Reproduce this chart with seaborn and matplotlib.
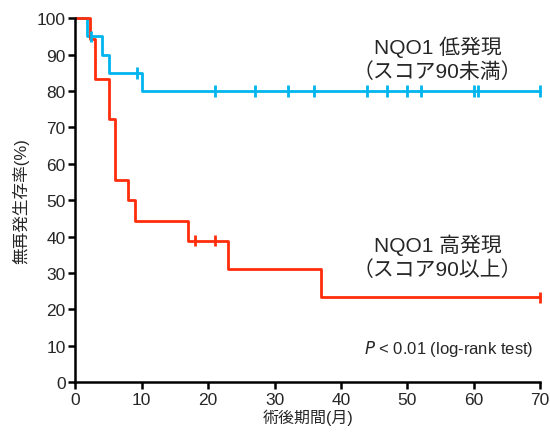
import pandas as pd
import matplotlib.pyplot as plt
import seaborn as sns

# Kaplan-Meier step values
low_times = [0, 1.8, 4, 5, 10, 70]
low_surv = [100, 95, 90, 85, 80, 80]
low_censor = [2.3, 9.3, 21, 27, 32, 36, 44, 47, 50, 52, 60, 60.7, 70]

high_times = [0, 2.2, 3, 5, 6, 8, 9, 17, 23, 37, 70]
high_surv = [100, 94.4, 83.3, 72.2, 55.6, 50, 44.4, 38.9, 31.1, 23.3, 23.3]
high_censor = [18, 21, 70]

x_ticks = [0, 10, 20, 30, 40, 50, 60, 70]
y_ticks = [0, 10, 20, 30, 40, 50, 60, 70, 80, 90, 100]

BLUE = '#00B4EE'
RED = '#FF2D0A'


def surv_at(times, surv, t):
    # survival value of the step curve at time t
    val = surv[0]
    for ti, si in zip(times, surv):
        if ti <= t:
            val = si
    return val


def build_frames():
    curves = pd.concat([
        pd.DataFrame({'time': low_times, 'surv': low_surv, 'group': 'low'}),
        pd.DataFrame({'time': high_times, 'surv': high_surv, 'group': 'high'}),
    ], ignore_index=True)
    marks = pd.concat([
        pd.DataFrame({'time': low_censor,
                      'surv': [surv_at(low_times, low_surv, t) for t in low_censor],
                      'group': 'low'}),
        pd.DataFrame({'time': high_censor,
                      'surv': [surv_at(high_times, high_surv, t) for t in high_censor],
                      'group': 'high'}),
    ], ignore_index=True)
    return curves, marks


def draw(curves, marks):
    sns.set_style('white')
    plt.rcParams['font.family'] = ['Liberation Sans', 'Noto Sans CJK JP']

    fig = plt.figure(figsize=(5.5, 4.35), dpi=100)
    ax = fig.add_axes([0.137, 0.119, 0.845, 0.837])

    palette = {'low': BLUE, 'high': RED}
    sns.lineplot(data=curves, x='time', y='surv', hue='group', palette=palette,
                 drawstyle='steps-post', linewidth=2.0, legend=False, ax=ax,
                 estimator=None, sort=False, clip_on=False)
    sns.scatterplot(data=marks, x='time', y='surv', hue='group', palette=palette,
                    marker='|', s=70, linewidth=2.0, legend=False, ax=ax,
                    zorder=3, clip_on=False)

    ax.set_xlim(0, 70)
    ax.set_ylim(0, 100)
    ax.set_xticks(x_ticks)
    ax.set_yticks(y_ticks)
    ax.tick_params(axis='both', direction='out', length=5, width=1.8,
                   labelsize=12.5, color='black', pad=2, left=True, bottom=True)
    for side in ['top', 'right']:
        ax.spines[side].set_visible(False)
    for side in ['left', 'bottom']:
        ax.spines[side].set_color('black')
        ax.spines[side].set_linewidth(1.8)
    ax.set_xlabel('術後期間(月)', fontsize=11.5, labelpad=1)
    ax.set_ylabel('無再発生存率(%)', fontsize=12, labelpad=5)

    ax.text(0.779, 0.89, 'NQO1 低発現\n（スコア90未満）', transform=ax.transAxes,
            ha='center', va='center', fontsize=15, linespacing=1.3)
    ax.text(0.779, 0.346, 'NQO1 高発現\n（スコア90以上）', transform=ax.transAxes,
            ha='center', va='center', fontsize=15, linespacing=1.3)
    ax.text(0.985, 0.095, r'$\it{P}$ < 0.01 (log-rank test)', transform=ax.transAxes,
            ha='right', va='center', fontsize=12)

    fig.savefig('out.png', dpi=100)


if __name__ == "__main__":
    curves, marks = build_frames()
    draw(curves, marks)
